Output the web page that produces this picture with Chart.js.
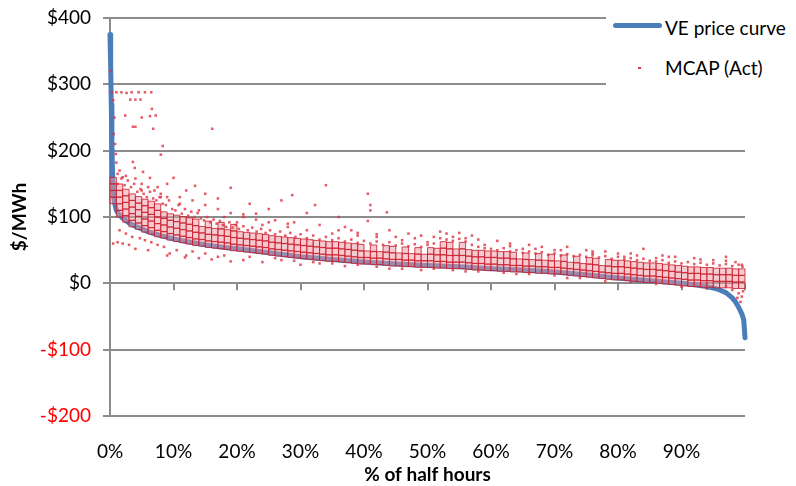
<!DOCTYPE html>
<html>
<head>
<meta charset="utf-8">
<title>VE price curve vs MCAP</title>
<script src="https://cdn.jsdelivr.net/npm/chart.js@4.4.0/dist/chart.umd.min.js"></script>
<style>
    html, body { margin: 0; padding: 0; background: #fff; }
    #wrap { position: relative; width: 796px; height: 486px; font-family: Lato, "Open Sans", sans-serif; }
    #legend { position: absolute; left: 606px; top: 0; width: 190px; height: 90px; background: #fff; }
    .lg-text { position: absolute; left: 59px; font-size: 19px; line-height: 23px; color: #000; white-space: nowrap; }
    .lg-line { position: absolute; left: 7px; top: 23px; width: 49px; height: 5px; border-radius: 3px; background: #4a7ebb; }
    .lg-dot  { position: absolute; left: 32px; top: 67px; width: 3px; height: 2px; background: #e03a48; }
</style>
</head>
<body>
<div id="wrap">
    <canvas id="chart" width="796" height="486"></canvas>
    <div id="legend">
        <div class="lg-line"></div>
        <div class="lg-text" style="top:16px">VE price curve</div>
        <div class="lg-dot"></div>
        <div class="lg-text" style="top:56px">MCAP (Act)</div>
    </div>
</div>

<script>
/* ------------------------------------------------------------
   VE price curve (duration curve) vs actual MCAP, $/MWh
   ------------------------------------------------------------ */

// VE price curve, x = % of half hours
var curveX = [0, 0.1, 0.2, 0.3, 0.4, 0.5, 0.7, 1, 1.5, 2, 3, 4, 5, 6, 7, 8, 10, 12, 15, 18,
              20, 25, 30, 35, 40, 45, 50, 55, 60, 65, 70, 75, 78, 80, 85, 90, 92, 94, 95, 96,
              97, 98, 98.5, 99, 99.5, 99.8, 100];
var curveY = [375, 330, 270, 210, 165, 140, 122, 110, 103, 98, 91, 86, 82, 78, 75, 72, 67, 63, 58, 54,
              52, 46, 40, 36, 32, 29, 27, 25, 22, 20, 17, 13, 10, 8, 4, 0, -2, -5, -7, -10,
              -14, -22, -28, -36, -46, -55, -82];

// MCAP (Act): the dense band, one column of values per x position
var bandX = [0.5, 1.5, 2.5, 3.5, 4.5, 5.5, 6.5, 7.5, 8.5, 9.5,
             10.5, 11.5, 12.5, 13.5, 14.5, 15.5, 16.5, 17.5, 18.5, 19.5,
             20.5, 21.5, 22.5, 23.5, 24.5, 25.5, 26.5, 27.5, 28.5, 29.5,
             30.5, 31.5, 32.5, 33.5, 34.5, 35.5, 36.5, 37.5, 38.5, 39.5,
             40.5, 41.5, 42.5, 43.5, 44.5, 45.5, 46.5, 47.5, 48.5, 49.5,
             50.5, 51.5, 52.5, 53.5, 54.5, 55.5, 56.5, 57.5, 58.5, 59.5,
             60.5, 61.5, 62.5, 63.5, 64.5, 65.5, 66.5, 67.5, 68.5, 69.5,
             70.5, 71.5, 72.5, 73.5, 74.5, 75.5, 76.5, 77.5, 78.5, 79.5,
             80.5, 81.5, 82.5, 83.5, 84.5, 85.5, 86.5, 87.5, 88.5, 89.5,
             90.5, 91.5, 92.5, 93.5, 94.5, 95.5, 96.5, 97.5, 98.5, 99.5];
var bandY = [
    [125, 135, 145, 155], [105, 115, 125, 135, 145], [97, 107, 117, 127, 137], [90, 100, 110, 120, 130], [86, 96, 106, 116, 126],
    [82, 92, 102, 112, 122], [79, 89, 99, 109, 119], [75, 85, 95, 105, 115], [73, 83, 93, 103], [70, 80, 90, 100],
    [68, 78, 88, 98], [66, 76, 86, 96], [64, 74, 84, 94], [62, 72, 82, 92], [61, 71, 81],
    [59, 69, 79, 89], [58, 68, 78], [57, 67, 77, 87], [56, 66, 76], [54, 64, 74, 84],
    [53, 63, 73], [52, 62, 72], [51, 61, 71], [50, 60, 70], [49, 59, 69],
    [47, 57, 67], [46, 56, 66], [45, 55, 65], [44, 54, 64], [43, 53, 63],
    [42, 52, 62], [41, 51, 61], [40, 50, 60], [39, 49, 59], [38, 48, 58],
    [38, 48, 58], [37, 47, 57], [36, 46, 56], [35, 45, 55], [34, 44, 54],
    [34, 44], [33, 43, 53], [33, 43], [32, 42, 52], [31, 41, 51],
    [31, 41], [30, 40, 50], [30, 40], [29, 39, 49], [29, 39],
    [29, 39, 49], [28, 38, 48], [28, 38, 48, 58], [27, 37, 47, 57], [27, 37, 47],
    [27, 37, 47, 57], [26, 36, 46], [25, 35, 45], [25, 35, 45], [24, 34, 44],
    [24, 34, 44], [23, 33, 43], [23, 33, 43], [22, 32, 42], [22, 32],
    [21, 31, 41], [21, 31], [20, 30, 40], [20, 30], [19, 29, 39],
    [19, 29], [18, 28, 38], [17, 27], [16, 26, 36], [15, 25],
    [14, 24, 34], [13, 23, 33], [12, 22], [11, 21, 31], [10, 20, 30],
    [10, 20, 30], [9, 19, 29], [8, 18, 28], [7, 17, 27], [6, 16, 26],
    [6, 16, 26], [5, 15, 25], [4, 14, 24], [3, 13, 23], [2, 12, 22],
    [1, 11, 21], [0, 10, 20], [0, 10, 20], [-1, 9, 19], [-1, 9, 19],
    [-2, 8, 18], [-2, 8, 18], [-2, 8, 18], [-3, 7, 17], [-3, 7, 17]
];

// MCAP (Act): scattered half hours away from the band
var outX = [0.1, 0.3, 1, 1.8, 2.6, 3.4, 4.5, 5.5, 6.5, 3.2, 4, 4.8, 6.6, 2.4, 5, 6.3, 7.2, 3.6, 4, 6.8,
            0.5, 0.7, 0.6, 0.8, 0.9, 1, 16.1, 8.3, 8, 3.6, 3.9, 5.2, 6.3, 10, 13.4, 19, 34, 28.7, 40.6, 41,
            41, 32.3, 40.6, 43.6, 36, 31, 25, 22, 27, 17, 15, 12, 9, 7.5, 21, 23, 26, 29, 33, 37,
            38, 44, 47, 49, 51, 53, 56, 58, 61, 63, 66, 68, 72, 75, 78, 82, 84, 87, 89, 92,
            95, 97, 98.5, 99.5, 86, 81, 76, 70, 65, 59, 54, 50, 46, 42, 39, 35, 31, 28, 24, 20,
            18, 14, 11, 8, 5, 2, 1.5,
            // cloud just above the band
            1.2, 1.8, 2.3, 2.8, 3.3, 3.8, 4.3, 4.8, 5.3, 5.8, 6.3, 6.8, 7.3, 7.8, 8.3, 8.8, 9.3, 9.8,
            1.2, 2.5, 4, 5, 6, 7, 8, 9,
            10.3, 10.8, 11.3, 11.8, 12.3, 12.8, 13.3, 13.8, 14.3, 14.8, 15.3, 15.8, 16.3, 16.8, 17.3, 17.8,
            18.3, 18.8, 19.3, 19.8, 20.3, 21, 21.7, 22.4, 23.1, 23.8, 24.5, 25.2, 26, 26.8, 27.6, 28.4, 29.2, 30,
            11, 13, 15, 17, 19, 21, 23, 25, 28,
            31, 32, 33, 34, 35, 36, 37, 38, 39, 40, 41, 42, 43, 44, 45, 46, 47, 48, 49, 50,
            51, 52, 53, 54, 55, 56, 57, 58, 59, 60, 36, 39, 42, 45, 48, 52, 55, 57,
            61, 62, 63, 64, 65, 66, 67, 68, 69, 70, 71, 72, 73, 74, 75, 76, 77, 78, 79, 80,
            81, 82, 83, 84, 85, 86, 87, 88, 89, 90, 91, 92, 93, 94, 95, 96, 97, 98, 99, 99.6,
            63, 67, 71, 76, 80, 83, 88, 93, 97,
            // below the curve
            0.5, 1.2, 2, 3, 4, 4.7, 6, 7.5, 9, 9.4, 11.8, 12, 14, 16, 17, 19, 21, 24, 27, 30,
            33, 37, 44, 49, 56, 64, 72, 78, 97, 98, 99, 99.5, 99.3, 99.7, 98.8,
            1.5, 2.5, 3.5, 5.5, 6.5, 8.5, 10.5, 13, 15, 18, 22, 26, 29, 32, 35, 39, 42, 46, 51, 54,
            58, 62, 66, 70, 74, 82, 86, 90, 94];
var outY = [320, 288, 288, 288, 287, 288, 288, 288, 288, 277, 277, 277, 263, 253, 250, 252, 253, 236, 236, 233,
            276, 250, 225, 210, 195, 182, 233, 207, 194, 183, 174, 168, 159, 159, 147, 144, 148, 133, 135, 118,
            110, 118, 94, 107, 100, 106, 112, 120, 125, 128, 135, 140, 150, 145, 100, 105, 95, 92, 88, 85,
            80, 80, 75, 72, 70, 75, 68, 66, 64, 60, 58, 55, 55, 50, 48, 45, 52, 42, 40, 38,
            35, 40, 32, 28, 38, 40, 45, 50, 52, 58, 64, 62, 65, 70, 72, 75, 80, 85, 88, 92,
            100, 110, 120, 130, 140, 160, 170,
            150, 158, 148, 155, 145, 150, 138, 142, 135, 130, 138, 128, 125, 130, 120, 118, 125, 112,
            165, 162, 158, 150, 145, 140, 135, 130,
            110, 118, 105, 112, 102, 108, 100, 106, 98, 95, 100, 92, 96, 90, 94, 88,
            85, 92, 84, 88, 82, 86, 80, 84, 78, 82, 76, 80, 74, 78, 72, 76, 70, 74,
            130, 125, 118, 112, 106, 104, 96, 92, 90,
            68, 72, 66, 70, 65, 68, 63, 66, 61, 64, 60, 63, 58, 62, 57, 60, 56, 59, 55, 58,
            60, 68, 66, 70, 67, 63, 58, 55, 53, 52, 80, 76, 74, 70, 68, 78, 76, 72,
            50, 53, 48, 50, 46, 48, 45, 47, 43, 45, 42, 44, 41, 43, 40, 42, 39, 41, 37, 40,
            36, 38, 35, 37, 34, 33, 35, 31, 33, 30, 32, 29, 31, 28, 30, 27, 29, 26, 28, 25,
            56, 52, 50, 48, 45, 42, 40, 36, 34,
            60, 62, 60, 58, 52, 68, 50, 58, 42, 45, 39, 42, 38, 36, 40, 33, 35, 32, 35, 28,
            30, 26, 22, 20, 18, 14, 8, 3, -5, -10, -15, -20, -28, -12, -22,
            80, 75, 70, 65, 62, 55, 50, 48, 45, 42, 40, 38, 34, 32, 30, 28, 25, 22, 22, 20,
            18, 16, 14, 12, 8, 2, -1, -5, -8];

// Axis ticks and labels
var yTickValues = [-200, -100, 0, 100, 200, 300, 400];
var yTickLabels = ["-$200", "-$100", "$0", "$100", "$200", "$300", "$400"];
var xTickValues = [0, 10, 20, 30, 40, 50, 60, 70, 80, 90, 100];
var xTickLabels = ["0%", "10%", "20%", "30%", "40%", "50%", "60%", "70%", "80%", "90%", ""];

var FONT = "Lato, 'Open Sans', sans-serif";
var GRID = "#8c8c8c";

// small tick marks hanging below the $0 line (Excel draws the x axis there)
var zeroTicks = {
    id: "zeroTicks",
    beforeDatasetsDraw: function (chart) {
        var xs = chart.scales.x, ys = chart.scales.y, ctx = chart.ctx;
        var y0 = ys.getPixelForValue(0);
        ctx.save();
        ctx.strokeStyle = GRID;
        ctx.lineWidth = 2;
        xTickValues.forEach(function (v) {
            var px = Math.round(xs.getPixelForValue(v));
            ctx.beginPath();
            ctx.moveTo(px, y0);
            ctx.lineTo(px, y0 + 7);
            ctx.stroke();
        });
        ctx.restore();
    }
};

document.addEventListener("DOMContentLoaded", function () {
    var curveData = curveX.map(function (x, i) { return { x: x, y: curveY[i] }; });
    var bandData = [];
    bandX.forEach(function (x, i) {
        bandY[i].forEach(function (y) { bandData.push({ x: x, y: y }); });
    });
    var outData = outX.map(function (x, i) { return { x: x, y: outY[i] }; });

    new Chart(document.getElementById("chart").getContext("2d"), {
        type: "scatter",
        data: {
            datasets: [
                {
                    label: "VE price curve",
                    data: curveData,
                    showLine: true,
                    borderColor: "#4a7ebb",
                    borderWidth: 5,
                    borderCapStyle: "round",
                    borderJoinStyle: "round",
                    pointRadius: 0,
                    clip: 6,
                    order: 3
                },
                {
                    label: "MCAP (Act)",
                    data: bandData,
                    pointStyle: "rect",
                    pointRadius: 4.5,
                    pointBackgroundColor: "rgba(238,150,160,0.5)",
                    pointBorderColor: "rgba(200,24,40,0.8)",
                    pointBorderWidth: 1,
                    clip: 6,
                    order: 2
                },
                {
                    label: "MCAP (Act) outliers",
                    data: outData,
                    pointStyle: "rect",
                    pointRadius: 1.8,
                    pointBackgroundColor: "rgba(222,50,64,0.8)",
                    pointBorderWidth: 0,
                    clip: 6,
                    order: 1
                }
            ]
        },
        options: {
            responsive: false,
            animation: false,
            events: [],
            layout: { padding: { top: 18, right: 51, bottom: 0, left: 0 } },
            plugins: {
                legend: { display: false },
                tooltip: { enabled: false }
            },
            scales: {
                x: {
                    type: "linear",
                    min: 0,
                    max: 100,
                    afterBuildTicks: function (s) {
                        s.ticks = xTickValues.map(function (v) { return { value: v }; });
                    },
                    afterFit: function (s) {
                        s.height = 70;
                        s.paddingLeft = 0;
                        s.paddingRight = 0;
                    },
                    grid: { display: false, drawTicks: false },
                    border: { display: false },
                    ticks: {
                        autoSkip: false,
                        maxRotation: 0,
                        padding: 24,
                        color: "#000",
                        font: { family: FONT, size: 19 },
                        callback: function (v) { return xTickLabels[xTickValues.indexOf(v)]; }
                    },
                    title: {
                        display: true,
                        text: "% of half hours",
                        color: "#000",
                        font: { family: FONT, size: 19, weight: "bold" },
                        padding: { top: 0, bottom: 0 }
                    }
                },
                y: {
                    min: -200,
                    max: 400,
                    afterBuildTicks: function (s) {
                        s.ticks = yTickValues.map(function (v) { return { value: v }; });
                    },
                    afterFit: function (s) {
                        s.width = 110;
                        s.paddingTop = 0;
                        s.paddingBottom = 0;
                    },
                    grid: { color: GRID, lineWidth: 2, tickLength: 7 },
                    border: { color: GRID, width: 2 },
                    ticks: {
                        padding: 12,
                        font: { family: FONT, size: 19 },
                        color: function (ctx) { return ctx.tick && ctx.tick.value < 0 ? "#ff0000" : "#000"; },
                        callback: function (v) { return yTickLabels[yTickValues.indexOf(v)]; }
                    },
                    title: {
                        display: true,
                        text: "$/MWh",
                        color: "#000",
                        font: { family: FONT, size: 19, weight: "bold" },
                        padding: { top: 8, bottom: 0 }
                    }
                }
            }
        },
        plugins: [zeroTicks]
    });
});
</script>
</body>
</html>
